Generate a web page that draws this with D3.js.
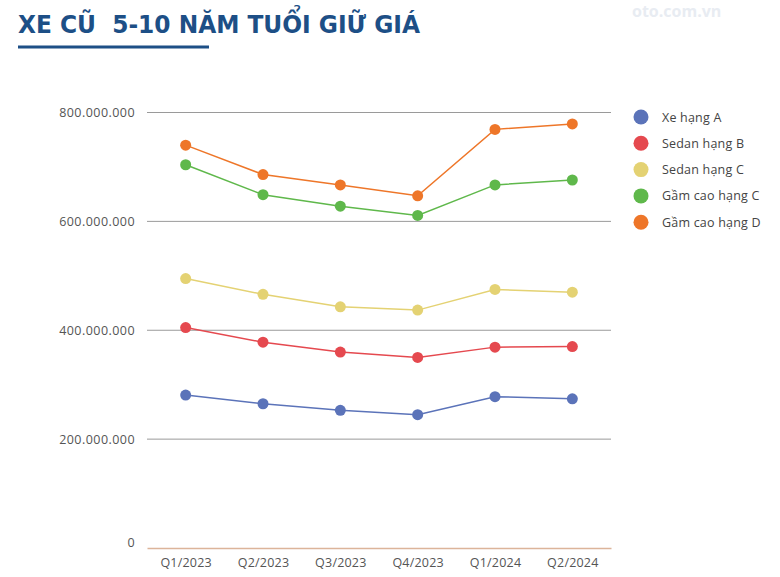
<!DOCTYPE html>
<html><head><meta charset="utf-8">
<script src="https://cdn.jsdelivr.net/npm/d3@7/dist/d3.min.js"></script>
<style>body{margin:0;background:#fff;}svg{display:block;}</style>
</head><body>
<svg id="chart" width="780" height="577"></svg>
<script>
const categories = ["Q1/2023","Q2/2023","Q3/2023","Q4/2023","Q1/2024","Q2/2024"];
const seriesNames = ["Xe hạng A","Sedan hạng B","Sedan hạng C","Gầm cao hạng C","Gầm cao hạng D"];
const xeHangA = [281000000,265000000,253000000,245000000,278000000,274000000];
const sedanHangB = [405000000,378000000,360000000,350000000,369000000,370000000];
const sedanHangC = [495000000,466000000,443000000,437000000,475000000,470000000];
const gamCaoHangC = [704000000,649000000,628000000,611000000,667000000,676000000];
const gamCaoHangD = [740000000,686000000,667000000,647000000,769000000,779000000];
const yTicks = [0,200000000,400000000,600000000,800000000];
const colors = ["#5b73b9","#e5494f","#e4d273","#5fb84b","#ee7629"];
const seriesValues = [xeHangA, sedanHangB, sedanHangC, gamCaoHangC, gamCaoHangD];

const svg = d3.select("#chart");
const font = "'Open Sans', Lato, sans-serif";

// watermark
svg.append("text").attr("x",632).attr("y",17).attr("font-family","'Open Sans',sans-serif")
  .attr("font-size",16).attr("font-weight",700).attr("fill","#e8ecf2").text("oto.com.vn");

// title
svg.append("text").attr("x",18).attr("y",33)
  .attr("xml:space","preserve").style("white-space","pre")
  .attr("font-family","'DejaVu Sans Condensed','DejaVu Sans',sans-serif")
  .attr("font-weight",700).attr("font-size",25).attr("fill","#1d4f86")
  .attr("textLength",402).attr("lengthAdjust","spacingAndGlyphs")
  .text("XE CŨ  5-10 NĂM TUỔI GIỮ GIÁ");
svg.append("rect").attr("x",18).attr("y",45.5).attr("width",191).attr("height",3).attr("fill","#1d4f86");

const x = d3.scalePoint().domain(categories).range([147,611]).padding(0.5);
const y = d3.scaleLinear().domain([0,800000000]).range([548,112.5]);

const fmt = v => d3.format(",")(v).replace(/,/g,".");

// grid
const grid = svg.append("g");
grid.selectAll("line").data(yTicks.filter(t=>t>0)).join("line")
  .attr("x1",147).attr("x2",611).attr("y1",d=>y(d)).attr("y2",d=>y(d))
  .attr("stroke","#9a9a9a").attr("stroke-width",1);

// y axis
const yAxis = svg.append("g").attr("transform","translate(147,0)")
  .call(d3.axisLeft(y).tickValues(yTicks).tickFormat(d=>d===0?"0":fmt(d)).tickSize(0).tickPadding(12));
yAxis.select(".domain").remove();
yAxis.selectAll("text").attr("font-family",font).attr("font-size",12.5).attr("letter-spacing",0.45).attr("fill","#555")
  .attr("dy",d=>d===0?"-0.1em":"0.32em");

// x axis
const xAxis = svg.append("g").attr("transform","translate(0,548)")
  .call(d3.axisBottom(x).tickSize(0).tickPadding(10));
xAxis.select(".domain").attr("stroke","#dcb49a").attr("stroke-width",1.5);
xAxis.selectAll("text").attr("font-family",font).attr("font-size",12.5).attr("letter-spacing",0.2).attr("fill","#555");

// lines
const line = d3.line().x((d,i)=>x(categories[i])).y(d=>y(d));
seriesValues.forEach((vals,si)=>{
  const g = svg.append("g");
  g.append("path").attr("d",line(vals)).attr("fill","none").attr("stroke",colors[si]).attr("stroke-width",1.5);
  g.selectAll("circle").data(vals).join("circle")
    .attr("cx",(d,i)=>x(categories[i])).attr("cy",d=>y(d)).attr("r",5.5).attr("fill",colors[si]);
});

// legend
const leg = svg.append("g");
seriesNames.forEach((n,i)=>{
  const yy = 117 + i*26.3;
  leg.append("circle").attr("cx",641).attr("cy",yy).attr("r",7.5).attr("fill",colors[i]);
  leg.append("text").attr("x",662).attr("y",yy+4.5).attr("font-family",font).attr("font-size",12.5)
    .attr("letter-spacing",0.2).attr("fill","#444").text(n);
});
</script>
</body></html>
